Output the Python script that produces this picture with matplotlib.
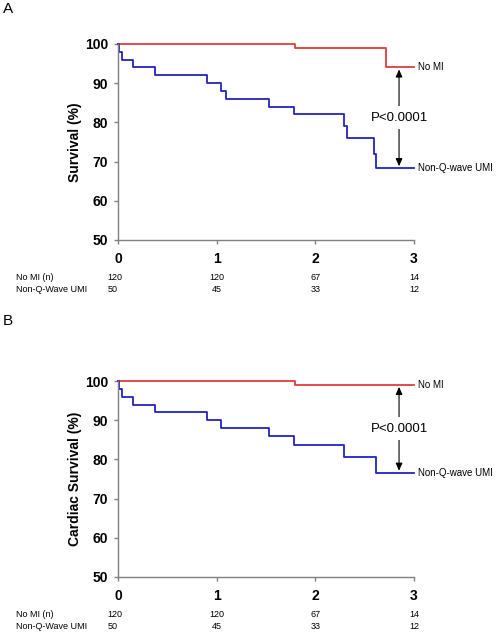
import matplotlib
matplotlib.use("Agg")
import matplotlib.pyplot as plt

plt.rcParams['font.family'] = ['Liberation Sans', 'DejaVu Sans']

# panel A: all-cause survival
t_nomi_a = [0, 1.79, 2.72, 3.0]
s_nomi_a = [100, 99, 94, 94]
t_umi_a = [0, 0.01, 0.04, 0.155, 0.375, 0.90, 1.04, 1.09, 1.53, 1.78, 2.29, 2.32, 2.60, 2.62, 3.0]
s_umi_a = [100, 98, 96, 94, 92, 90, 88, 86, 84, 82, 79, 76, 72, 68.3, 68.3]

# panel B: cardiac survival
t_nomi_b = [0, 1.79, 3.0]
s_nomi_b = [100, 99, 99]
t_umi_b = [0, 0.01, 0.04, 0.155, 0.375, 0.90, 1.04, 1.53, 1.78, 2.29, 2.62, 3.0]
s_umi_b = [100, 98, 96, 94, 92, 90, 88, 86, 83.7, 80.6, 76.6, 76.6]

years = [0, 1, 2, 3]
at_risk_nomi = [120, 120, 67, 14]
at_risk_umi = [50, 45, 33, 12]
row_labels = ["No MI (n)", "Non-Q-Wave UMI"]

red = '#e03c3c'
blue = '#2323c0'
grey = '#808080'

fig = plt.figure(figsize=(4.98, 6.33), dpi=100)
axA = fig.add_axes([0.237, 0.621, 0.594, 0.3096])
axB = fig.add_axes([0.237, 0.0885, 0.594, 0.3096])


def draw(ax, tn, sn, tu, su, ylabel):
    ax.step(tn, sn, where='post', color=red, lw=1.3, clip_on=False)
    ax.step(tu, su, where='post', color=blue, lw=1.3, clip_on=False)
    ax.set_xlim(0, 3)
    ax.set_ylim(50, 100)
    ax.set_xticks(years)
    ax.set_yticks(range(50, 101, 10))
    for sp in ['top', 'right']:
        ax.spines[sp].set_visible(False)
    for sp in ['left', 'bottom']:
        ax.spines[sp].set_color(grey)
        ax.spines[sp].set_linewidth(1.0)
    ax.tick_params(colors=grey, length=3, width=1, labelcolor='black',
                   labelsize=10)
    ax.tick_params(axis='y', pad=4)
    ax.tick_params(axis='x', pad=6)
    for lab in ax.get_xticklabels() + ax.get_yticklabels():
        lab.set_fontweight('bold')
    ax.set_ylabel(ylabel, fontsize=10, fontweight='bold', labelpad=2)

    # end labels
    ax.text(3.04, sn[-1], "No MI", fontsize=7, va='center', ha='left')
    ax.text(3.04, su[-1], "Non-Q-wave UMI", fontsize=7, va='center', ha='left')

    # p-value arrow
    xa = 2.85
    ax.annotate('', xy=(xa, sn[-1] - 0.5), xytext=(xa, su[-1] + 0.5),
                arrowprops=dict(arrowstyle='<|-|>,head_length=0.45,head_width=0.2',
                                color='black', lw=0.8, shrinkA=0, shrinkB=0))
    ax.text(xa, (sn[-1] + su[-1]) / 2, "P<0.0001", fontsize=9.5, ha='center',
            va='center', bbox=dict(facecolor='white', edgecolor='none', pad=4))

    # numbers at risk
    tr = ax.get_xaxis_transform()
    for row, (lab, vals) in enumerate(zip(row_labels, [at_risk_nomi, at_risk_umi])):
        yy = -0.19 - 0.065 * row
        ax.text(-1.035, yy, lab, fontsize=6.5, ha='left', va='center', transform=tr)
        for i, (x, v) in enumerate(zip(years, vals)):
            if i == 0:
                ax.text(-0.11, yy, str(v), fontsize=6.5, ha='left', va='center', transform=tr)
            else:
                ax.text(x, yy, str(v), fontsize=6.5, ha='center', va='center', transform=tr)


draw(axA, t_nomi_a, s_nomi_a, t_umi_a, s_umi_a, "Survival (%)")
draw(axB, t_nomi_b, s_nomi_b, t_umi_b, s_umi_b, "Cardiac Survival (%)")

fig.text(0.006, 0.985, "A", fontsize=11, ha='left', va='center')
fig.text(0.006, 0.493, "B", fontsize=11, ha='left', va='center')

fig.savefig("out.png", dpi=100)
